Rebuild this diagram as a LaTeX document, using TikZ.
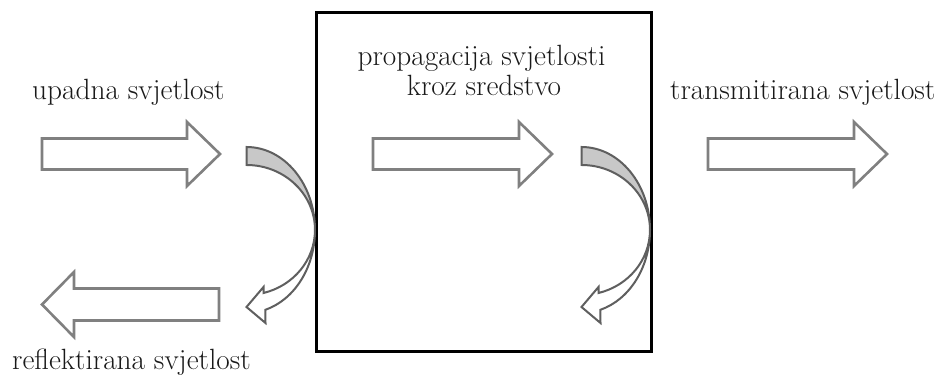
\documentclass[tikz,border=0pt]{standalone}
\usepackage{tikz}
\definecolor{arrowgray}{RGB}{128,128,128}
\definecolor{curvegray}{RGB}{95,95,95}
\definecolor{bandfill}{RGB}{200,200,200}
\definecolor{txt}{RGB}{25,25,25}
\tikzset{
  fatarrow/.style={draw=arrowgray, line width=2.6pt, fill=white, line join=miter},
  curvedge/.style={draw=curvegray, line width=2pt, line join=miter},
  mediumbox/.style={draw=black, line width=3pt},
  lbl/.style={inner sep=0pt, text=txt, font=\fontsize{29.3}{25}\selectfont},
}
% right-pointing fat arrow: #1 start x, #2 tip x, #3 centre y
\newcommand\fatR[3]{%
  \draw[fatarrow] (#1,#3+15.5) -- (#2-33,#3+15.5) -- (#2-33,#3+32) -- (#2,#3)
    -- (#2-33,#3-32) -- (#2-33,#3-15.5) -- (#1,#3-15.5) -- cycle;}
% left-pointing fat arrow: #1 tail x, #2 tip x, #3 centre y
\newcommand\fatL[3]{%
  \draw[fatarrow] (#1,#3+16) -- (#2+32,#3+16) -- (#2+32,#3+32.5) -- (#2,#3)
    -- (#2+32,#3-32.5) -- (#2+32,#3-16) -- (#1,#3-16) -- cycle;}
% curved reflecting arrow, centre x #1 (ellipse centre)
\newcommand\curvedarrow[1]{%
  \begin{scope}[shift={(#1,-230)}]
    \draw[curvedge, fill=bandfill] (0,83) arc[start angle=90, end angle=0, x radius=68.5pt, y radius=83pt]
      arc[start angle=0, end angle=90, x radius=68.5pt, y radius=65pt] -- cycle;
    \draw[curvedge, fill=white] (68.5,0)
      arc[start angle=0, end angle=-74, x radius=68.5pt, y radius=83pt]
      -- (19,-93) -- (0,-77) -- (17,-57) -- (17,-63)
      arc[start angle=-75.6, end angle=0, x radius=68.5pt, y radius=65pt];
  \end{scope}}
\begin{document}
\begin{tikzpicture}[x=1pt,y=1pt]
  \useasboundingbox (0,0) rectangle (940,-379);
  % medium
  \node[mediumbox, minimum width=335pt, minimum height=338.5pt, inner sep=0pt, anchor=north west] (medium) at (315,-11.5) {};
  % straight arrows
  \fatR{42}{220}{-154}
  \fatR{373}{552}{-154}
  \fatR{708}{887}{-154}
  \fatL{219}{42}{-304.5}
  % curved arrows at the boundaries
  \curvedarrow{246.5}
  \curvedarrow{581.5}
  % labels
  \node[lbl, anchor=base west] (inc) at (32,-100) {upadna svjetlost};
  \node[lbl, anchor=base] (prop) at (481.5,-66) {propagacija svjetlosti};
  \node[lbl, anchor=base] (prop2) at (484,-96) {kroz sredstvo};
  \node[lbl, anchor=base west] (trans) at (670,-100) {transmitirana svjetlost};
  \node[lbl, anchor=base west] (refl) at (12,-370) {reflektirana svjetlost};
\end{tikzpicture}
\end{document}
